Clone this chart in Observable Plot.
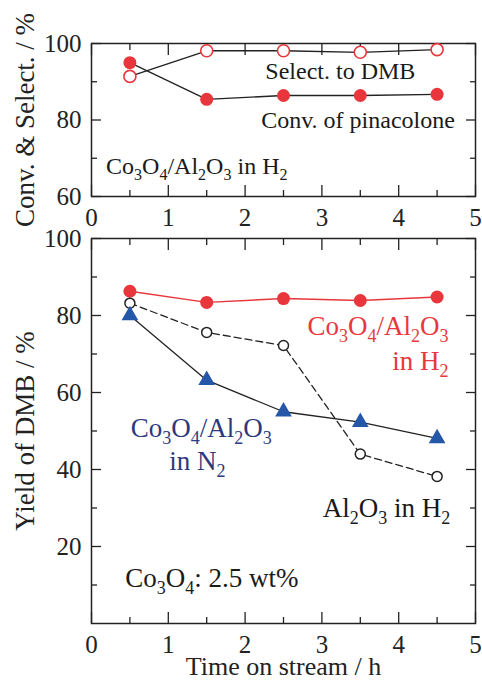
<!DOCTYPE html>
<html><head><meta charset="utf-8">
<script src="https://cdn.jsdelivr.net/npm/d3@7"></script>
<script src="https://cdn.jsdelivr.net/npm/@observablehq/plot@0.6"></script>
<style>
body{margin:0;background:#fff;}
#chart{position:relative;width:482px;height:682px;overflow:hidden;font-family:'Liberation Serif';}
#chart svg{position:absolute;left:0;overflow:visible;}
</style></head><body><div id="chart"></div>
<script>
// ---- data ----
const time = [0.5, 1.5, 2.5, 3.5, 4.5];
const convPinacolone = [95.0, 85.4, 86.4, 86.4, 86.7];
const selectDMB = [91.4, 98.1, 98.1, 97.7, 98.4];
const yieldCoH2 = [86.3, 83.4, 84.4, 83.9, 84.8];
const yieldCoN2 = [80.0, 63.2, 55.0, 52.3, 48.1];
const yieldAlH2 = [83.2, 75.6, 72.2, 44.0, 38.2];
const xMajor = [0, 1, 2, 3, 4, 5];
const xMinor = [0.5, 1.5, 2.5, 3.5, 4.5];
const yTopMajor = [60, 80, 100];
const yTopMinor = [70, 90];
const yBotMajor = [20, 40, 60, 80, 100];
const yBotLabels = [20, 40, 60, 80, 100];
const yBotMinor = [10, 30, 50, 70, 90];
const xTitle = "Time on stream / h";
const yTopTitle = "Conv. & Select. / %";
const yBotTitle = "Yield of DMB / %";
// annotations: text, x, y, anchor, color
const topNotes = [
  {text: "Select. to DMB", x: 3.24, y: 92.6, anchor: "middle", color: "#1a1a1a"},
  {text: "Conv. of pinacolone", x: 3.47, y: 79.9, anchor: "middle", color: "#1a1a1a"},
  {text: "Co_3O_4/Al_2O_3 in H_2", x: 0.19, y: 68.0, anchor: "start", color: "#1a1a1a"}
];
const botNotes = [
  {text: "Co_3O_4/Al_2O_3", x: 4.65, y: 77.1, anchor: "end", color: "#e8383d"},
  {text: "in H_2", x: 4.65, y: 68.1, anchor: "end", color: "#e8383d"},
  {text: "Co_3O_4/Al_2O_3", x: 1.43, y: 50.6, anchor: "middle", color: "#2b3a7e"},
  {text: "in N_2", x: 1.38, y: 42.0, anchor: "middle", color: "#2b3a7e"},
  {text: "Al_2O_3 in H_2", x: 4.67, y: 29.8, anchor: "end", color: "#1a1a1a"},
  {text: "Co_3O_4: 2.5 wt%", x: 0.44, y: 11.7, anchor: "start", color: "#1a1a1a"}
];

const RED = "#e8363c", BLUE = "#2457a8", INK = "#222";
const FONT = "'Liberation Serif'";
const topRows = time.map((t, i) => ({t, conv: convPinacolone[i], sel: selectDMB[i]}));
const botRows = time.map((t, i) => ({t, h2: yieldCoH2[i], n2: yieldCoN2[i], al: yieldAlH2[i]}));

function frameAxes(yMajor, yMinor, yLabels) {
  const c = {stroke: INK, strokeWidth: 1.3, fill: "none", label: null};
  return [
    Plot.axisX(xMinor, {...c, anchor: "bottom", tickSize: -6}),
    Plot.axisX(xMajor, {...c, anchor: "bottom", tickSize: -11}),
    Plot.axisX(xMinor, {...c, anchor: "top", tickSize: -6}),
    Plot.axisX(xMajor, {...c, anchor: "top", tickSize: -11}),
    Plot.axisY(yMinor, {...c, anchor: "left", tickSize: -6}),
    Plot.axisY(yMajor, {...c, anchor: "left", tickSize: -10}),
    Plot.axisY(yMinor, {...c, anchor: "right", tickSize: -6}),
    Plot.axisY(yMajor, {...c, anchor: "right", tickSize: -10}),
    Plot.axisX(xMajor, {anchor: "bottom", tickSize: 0, tickPadding: 12, label: null, fontSize: 25, fill: INK}),
    Plot.axisY(yLabels, {anchor: "left", tickSize: 0, tickPadding: 10, label: null, fontSize: 25, fill: INK}),
    Plot.frame({stroke: INK, strokeWidth: 1.5})
  ];
}

function notes(arr, size) {
  return ["start", "middle", "end"].map(a => Plot.text(arr.filter(d => d.anchor === a), {
    x: "x", y: "y", text: "text", fill: "color", textAnchor: a, fontSize: size
  }));
}

const style = {fontFamily: FONT, fontSize: "25px", background: "transparent", overflow: "visible", color: INK};

const topPlot = Plot.plot({
  width: 482, height: 230,
  marginLeft: 91, marginRight: 7, marginTop: 43, marginBottom: 34,
  x: {domain: [0, 5]}, y: {domain: [60, 100]},
  style,
  marks: [
    ...frameAxes(yTopMajor, yTopMinor, yTopMajor),
    Plot.line(topRows, {x: "t", y: "conv", stroke: INK, strokeWidth: 1.3}),
    Plot.line(topRows, {x: "t", y: "sel", stroke: INK, strokeWidth: 1.3}),
    Plot.dot(topRows, {x: "t", y: "conv", r: 6.5, fill: RED, stroke: "none"}),
    Plot.dot(topRows, {x: "t", y: "sel", r: 6, fill: "white", stroke: RED, strokeWidth: 1.6}),
    ...notes(topNotes, 24),
    Plot.text([yTopTitle], {frameAnchor: "left", textAnchor: "middle", lineAnchor: "middle", rotate: -90, dx: -66, fontSize: 27, fill: INK})
  ]
});

const botPlot = Plot.plot({
  width: 482, height: 452,
  marginLeft: 91, marginRight: 7, marginTop: 8, marginBottom: 59,
  x: {domain: [0, 5]}, y: {domain: [0, 100]},
  style,
  marks: [
    ...frameAxes(yBotMajor, yBotMinor, yBotLabels),
    Plot.line(botRows, {x: "t", y: "h2", stroke: RED, strokeWidth: 1.4}),
    Plot.line(botRows, {x: "t", y: "al", stroke: INK, strokeWidth: 1.3, strokeDasharray: "7,4"}),
    Plot.line(botRows, {x: "t", y: "n2", stroke: INK, strokeWidth: 1.3}),
    Plot.dot(botRows, {x: "t", y: "h2", r: 6.5, fill: RED, stroke: "none"}),
    Plot.dot(botRows, {x: "t", y: "al", r: 5, fill: "white", stroke: INK, strokeWidth: 1.5}),
    Plot.dot(botRows, {x: "t", y: "n2", r: 6.2, symbol: "triangle", fill: BLUE, stroke: "none"}),
    ...notes(botNotes, 27),
    Plot.text([yBotTitle], {frameAnchor: "left", textAnchor: "middle", lineAnchor: "middle", rotate: -90, dx: -66, fontSize: 27, fill: INK}),
    Plot.text([xTitle], {frameAnchor: "bottom", textAnchor: "middle", lineAnchor: "middle", dy: 43, fontSize: 26, fill: INK})
  ]
});

function subscripts(svg, subSize, shift) {
  const NS = "http://www.w3.org/2000/svg";
  d3.select(svg).selectAll("text").each(function() {
    this.style.fontFamily = FONT;
    const s = this.textContent;
    if (!s.includes("_")) return;
    const parts = s.split(/(_\d)/).filter(p => p);
    this.textContent = "";
    let down = false;
    for (const p of parts) {
      const t = document.createElementNS(NS, "tspan");
      if (p[0] === "_") {
        t.textContent = p.slice(1);
        t.setAttribute("font-size", subSize);
        if (!down) t.setAttribute("dy", shift);
        down = true;
      } else {
        t.textContent = p;
        if (down) t.setAttribute("dy", -shift);
        down = false;
      }
      this.appendChild(t);
    }
  });
}
subscripts(topPlot, 16, 6); subscripts(botPlot, 18, 7);
topPlot.style.top = "0px";
botPlot.style.top = "230px";
document.getElementById("chart").append(topPlot, botPlot);
</script>
</body></html>
